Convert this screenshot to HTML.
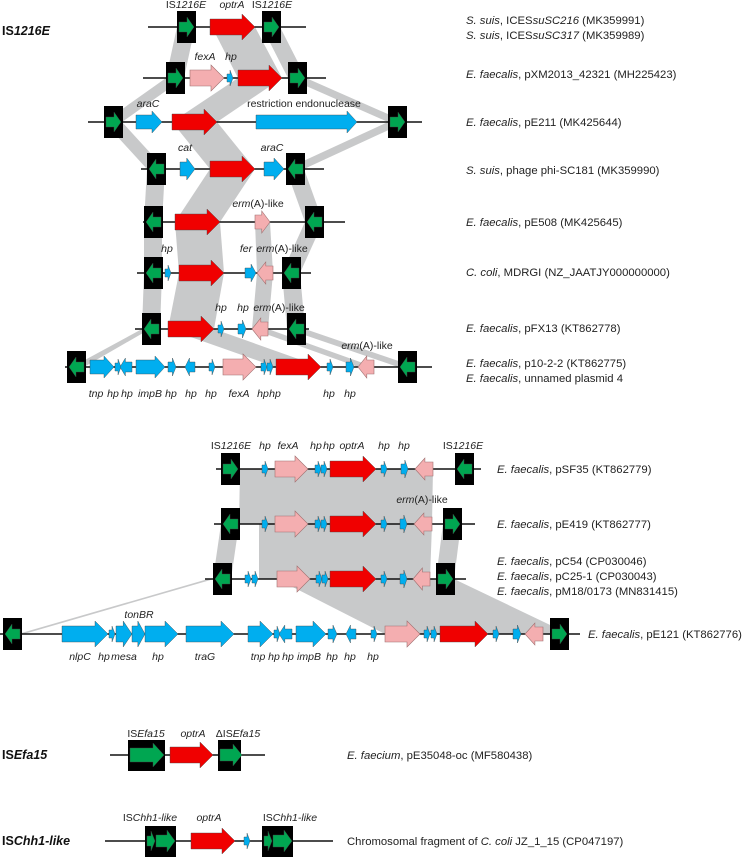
<!DOCTYPE html>
<html><head><meta charset="utf-8">
<style>
html,body{margin:0;padding:0;background:#fff;}
svg{display:block;font-family:"Liberation Sans",sans-serif;}
.g{font-size:10.5px;font-style:italic;fill:#222;text-anchor:middle}
.n{font-size:10.5px;fill:#222;text-anchor:middle}
.r{font-size:11.3px;fill:#222}
.h{font-size:12.5px;font-weight:bold;fill:#111}
</style></head><body>
<svg id="s" width="750" height="859" viewBox="0 0 750 859" xmlns="http://www.w3.org/2000/svg">
<g id="links" fill="#c8c9ca"></g>
<g id="lines" stroke="#111" stroke-width="1.6"></g>
<g id="shapes"></g>

<text class="h" x="2" y="35">IS<tspan font-style="italic">1216E</tspan></text>
<text class="h" x="2" y="759">IS<tspan font-style="italic">Efa15</tspan></text>
<text class="h" x="2" y="845">IS<tspan font-style="italic">Chh1-like</tspan></text>

<text class="r" x="466" y="24"><tspan font-style="italic">S. suis</tspan>, ICES<tspan font-style="italic">suSC216</tspan> (MK359991)</text>
<text class="r" x="466" y="39"><tspan font-style="italic">S. suis</tspan>, ICES<tspan font-style="italic">suSC317</tspan> (MK359989)</text>
<text class="r" x="466" y="78"><tspan font-style="italic">E. faecalis</tspan>, pXM2013_42321 (MH225423)</text>
<text class="r" x="466" y="126"><tspan font-style="italic">E. faecalis</tspan>, pE211 (MK425644)</text>
<text class="r" x="466" y="174"><tspan font-style="italic">S. suis</tspan>, phage phi-SC181 (MK359990)</text>
<text class="r" x="466" y="226"><tspan font-style="italic">E. faecalis</tspan>, pE508 (MK425645)</text>
<text class="r" x="466" y="276"><tspan font-style="italic">C. coli</tspan>, MDRGI (NZ_JAATJY000000000)</text>
<text class="r" x="466" y="332"><tspan font-style="italic">E. faecalis</tspan>, pFX13 (KT862778)</text>
<text class="r" x="466" y="367"><tspan font-style="italic">E. faecalis</tspan>, p10-2-2 (KT862775)</text>
<text class="r" x="466" y="382"><tspan font-style="italic">E. faecalis</tspan>, unnamed plasmid 4</text>

<text class="r" x="497" y="473"><tspan font-style="italic">E. faecalis</tspan>, pSF35 (KT862779)</text>
<text class="r" x="497" y="528"><tspan font-style="italic">E. faecalis</tspan>, pE419 (KT862777)</text>
<text class="r" x="497" y="565"><tspan font-style="italic">E. faecalis</tspan>, pC54 (CP030046)</text>
<text class="r" x="497" y="580"><tspan font-style="italic">E. faecalis</tspan>, pC25-1 (CP030043)</text>
<text class="r" x="497" y="595"><tspan font-style="italic">E. faecalis</tspan>, pM18/0173 (MN831415)</text>
<text class="r" x="588" y="638"><tspan font-style="italic">E. faecalis</tspan>, pE121 (KT862776)</text>

<text class="r" x="347" y="759"><tspan font-style="italic">E. faecium</tspan>, pE35048-oc (MF580438)</text>
<text class="r" x="347" y="845">Chromosomal fragment of <tspan font-style="italic">C. coli</tspan> JZ_1_15 (CP047197)</text>

<text class="n" x="186" y="8">IS<tspan font-style="italic">1216E</tspan></text>
<text class="g" x="232" y="8">optrA</text>
<text class="n" x="272" y="8">IS<tspan font-style="italic">1216E</tspan></text>
<text class="g" x="205" y="60">fexA</text>
<text class="g" x="231" y="60">hp</text>
<text class="g" x="148" y="107">araC</text>
<text class="n" x="304" y="107">restriction endonuclease</text>
<text class="g" x="185" y="151">cat</text>
<text class="g" x="272" y="151">araC</text>
<text class="n" x="258" y="207"><tspan font-style="italic">erm</tspan>(A)-like</text>
<text class="g" x="167" y="252">hp</text>
<text class="g" x="246" y="252">fer</text>
<text class="n" x="282" y="252"><tspan font-style="italic">erm</tspan>(A)-like</text>
<text class="g" x="221" y="311">hp</text>
<text class="g" x="243" y="311">hp</text>
<text class="n" x="279" y="311"><tspan font-style="italic">erm</tspan>(A)-like</text>
<text class="n" x="367" y="349"><tspan font-style="italic">erm</tspan>(A)-like</text>
<text class="g" x="96" y="397">tnp</text>
<text class="g" x="113" y="397">hp</text>
<text class="g" x="127" y="397">hp</text>
<text class="g" x="150" y="397">impB</text>
<text class="g" x="171" y="397">hp</text>
<text class="g" x="191" y="397">hp</text>
<text class="g" x="211" y="397">hp</text>
<text class="g" x="239" y="397">fexA</text>
<text class="g" x="263" y="397">hp</text>
<text class="g" x="275" y="397">hp</text>
<text class="g" x="329" y="397">hp</text>
<text class="g" x="350" y="397">hp</text>

<text class="n" x="231" y="449">IS<tspan font-style="italic">1216E</tspan></text>
<text class="g" x="265" y="449">hp</text>
<text class="g" x="288" y="449">fexA</text>
<text class="g" x="316" y="449">hp</text>
<text class="g" x="329" y="449">hp</text>
<text class="g" x="352" y="449">optrA</text>
<text class="g" x="384" y="449">hp</text>
<text class="g" x="404" y="449">hp</text>
<text class="n" x="463" y="449">IS<tspan font-style="italic">1216E</tspan></text>
<text class="n" x="422" y="503"><tspan font-style="italic">erm</tspan>(A)-like</text>
<text class="g" x="139" y="618">tonBR</text>
<text class="g" x="80" y="660">nlpC</text>
<text class="g" x="104" y="660">hp</text>
<text class="g" x="124" y="660">mesa</text>
<text class="g" x="158" y="660">hp</text>
<text class="g" x="205" y="660">traG</text>
<text class="g" x="258" y="660">tnp</text>
<text class="g" x="274" y="660">hp</text>
<text class="g" x="288" y="660">hp</text>
<text class="g" x="309" y="660">impB</text>
<text class="g" x="332" y="660">hp</text>
<text class="g" x="350" y="660">hp</text>
<text class="g" x="373" y="660">hp</text>

<text class="n" x="146" y="737">IS<tspan font-style="italic">Efa15</tspan></text>
<text class="g" x="193" y="737">optrA</text>
<text class="n" x="238" y="737">ΔIS<tspan font-style="italic">Efa15</tspan></text>
<text class="n" x="150" y="821">IS<tspan font-style="italic">Chh1-like</tspan></text>
<text class="g" x="209" y="821">optrA</text>
<text class="n" x="290" y="821">IS<tspan font-style="italic">Chh1-like</tspan></text>
</svg>
<script>
var NS="http://www.w3.org/2000/svg";
function el(p,tag,a){var e=document.createElementNS(NS,tag);for(var k in a)e.setAttribute(k,a[k]);document.getElementById(p).appendChild(e);return e;}
var COL={R:"#f00000",B:"#00aeef",P:"#f4aeb0",G:"#00a651"};
function gene(x1,x2,c,dir,col,bh,hh,hl){
  var L=x2-x1; if(hl>L*0.55) hl=L*0.55;
  var pts;
  if(dir>0){pts=[[x1,c-bh],[x2-hl,c-bh],[x2-hl,c-hh],[x2,c],[x2-hl,c+hh],[x2-hl,c+bh],[x1,c+bh]];}
  else{pts=[[x2,c-bh],[x1+hl,c-bh],[x1+hl,c-hh],[x1,c],[x1+hl,c+hh],[x1+hl,c+bh],[x2,c+bh]];}
  el("shapes","polygon",{points:pts.map(function(p){return p.join(",")}).join(" "),fill:COL[col],stroke:col=="P"?"#a07070":"#444","stroke-width":col=="P"?0.6:0.4});
}
function big(x1,x2,c,d,col){gene(x1,x2,c,d,col,8,13,13);}
function med(x1,x2,c,d,col){var L=x2-x1; if(L<14) gene(x1,x2,c,d,col,5,9,L*0.45); else gene(x1,x2,c,d,col,7,11,10);}
function hp(x,c,d){gene(x,x+6,c,d,"B",4,8,3);}
function IS(x,c,d,w,h){w=w||19;h=h||16;
  el("shapes","rect",{x:x,y:c-h,width:w,height:2*h,fill:"#000"});
  gene(x+2,x+w-2,c,d,"G",5,10,7);}
function line(x1,x2,c){el("lines","line",{x1:x1,x2:x2,y1:c,y2:c});}
function link(a1,a2,ya,b1,b2,yb){el("links","polygon",{points:a1+","+ya+" "+a2+","+ya+" "+b2+","+yb+" "+b1+","+yb});}

var Y=[27,78,122,169,222,273,329,367];
link(177,195,Y[0],166,184,Y[1]);link(212,255,Y[0],238,282,Y[1]);link(262,280,Y[0],288,306,Y[1]);
link(166,184,Y[1],104,122,Y[2]);link(238,282,Y[1],172,217,Y[2]);link(288,306,Y[1],388,406,Y[2]);
link(104,122,Y[2],147,165,Y[3]);link(172,217,Y[2],210,255,Y[3]);link(388,406,Y[2],286,304,Y[3]);
link(147,165,Y[3],144,162,Y[4]);link(210,255,Y[3],175,220,Y[4]);link(286,304,Y[3],305,323,Y[4]);
link(144,162,Y[4],144,162,Y[5]);link(175,220,Y[4],179,224,Y[5]);link(255,270,Y[4],257,273,Y[5]);link(305,323,Y[4],282,300,Y[5]);
link(144,162,Y[5],142,160,Y[6]);link(179,224,Y[5],168,214,Y[6]);link(257,273,Y[5],252,268,Y[6]);link(282,300,Y[5],287,305,Y[6]);
link(142,150,Y[6],72,84,Y[7]);link(168,214,Y[6],276,321,Y[7]);link(252,268,Y[6],358,374,Y[7]);link(287,305,Y[6],398,416,Y[7]);
var Z=[469,524,579,634];
link(240,433,Z[0],239,432,Z[1]);
link(221,239,Z[1],213,231,Z[2]);link(259,432,Z[1],259,430,Z[2]);link(443,461,Z[1],436,454,Z[2]);
link(208,214,Z[2],18,24,Z[3]);link(277,454,Z[2],385,569,Z[3]);

line(148,306,Y[0]);IS(177,Y[0],1);big(210,255,Y[0],1,"R");IS(262,Y[0],1);
line(143,326,Y[1]);IS(166,Y[1],1);big(190,224,Y[1],1,"P");hp(227,Y[1],1);big(238,282,Y[1],1,"R");IS(288,Y[1],1);
line(88,422,Y[2]);IS(104,Y[2],1);med(136,162,Y[2],1,"B");big(172,217,Y[2],1,"R");med(256,357,Y[2],1,"B");IS(388,Y[2],1);
line(141,324,Y[3]);IS(147,Y[3],-1);med(180,195,Y[3],1,"B");big(210,255,Y[3],1,"R");med(264,284,Y[3],1,"B");IS(286,Y[3],-1);
line(143,345,Y[4]);IS(144,Y[4],-1);big(175,220,Y[4],1,"R");med(255,270,Y[4],1,"P");IS(305,Y[4],-1);
line(137,311,Y[5]);IS(144,Y[5],-1);hp(165,Y[5],1);big(179,224,Y[5],1,"R");med(245,256,Y[5],1,"B");med(257,273,Y[5],-1,"P");IS(282,Y[5],-1);
line(135,309,Y[6]);IS(142,Y[6],-1);big(168,214,Y[6],1,"R");hp(218,Y[6],1);med(238,246,Y[6],1,"B");med(252,268,Y[6],-1,"P");IS(287,Y[6],-1);
line(65,432,Y[7]);IS(67,Y[7],-1);med(90,114,Y[7],1,"B");hp(115,Y[7],1);med(120,132,Y[7],-1,"B");med(136,165,Y[7],1,"B");med(168,176,Y[7],1,"B");med(185,195,Y[7],-1,"B");hp(209,Y[7],1);big(223,256,Y[7],1,"P");hp(261,Y[7],1);hp(267,Y[7],1);big(276,321,Y[7],1,"R");hp(327,Y[7],1);med(346,354,Y[7],1,"B");med(358,374,Y[7],-1,"P");IS(398,Y[7],-1);
function mid(c){hp(262,c,1);big(275,308,c,1,"P");hp(315,c,1);hp(321,c,1);big(330,376,c,1,"R");hp(381,c,1);}
line(216,481,Z[0]);IS(221,Z[0],1);mid(Z[0]);med(401,408,Z[0],1,"B");med(415,433,Z[0],-1,"P");IS(455,Z[0],-1);
line(214,475,Z[1]);IS(221,Z[1],-1);mid(Z[1]);med(400,407,Z[1],1,"B");med(414,432,Z[1],-1,"P");IS(443,Z[1],1);
line(205,466,Z[2]);IS(213,Z[2],-1);hp(245,Z[2],1);hp(252,Z[2],1);big(277,310,Z[2],1,"P");hp(316,Z[2],1);hp(322,Z[2],1);big(330,376,Z[2],1,"R");hp(381,Z[2],1);med(400,407,Z[2],1,"B");med(413,430,Z[2],-1,"P");IS(436,Z[2],1);
var c=Z[3];line(0,580,c);IS(3,c,-1);big(62,108,c,1,"B");hp(109,c,1);big(116,132,c,1,"B");big(132,145,c,1,"B");big(145,178,c,1,"B");big(186,234,c,1,"B");big(248,273,c,1,"B");hp(274,c,1);med(279,292,c,-1,"B");big(296,326,c,1,"B");med(328,337,c,1,"B");med(346,356,c,-1,"B");hp(371,c,1);big(385,420,c,1,"P");hp(424,c,1);hp(431,c,1);big(440,488,c,1,"R");hp(493,c,1);med(513,521,c,1,"B");med(525,543,c,-1,"P");IS(550,c,1);
c=755;line(110,265,c);el("shapes","rect",{x:128,y:c-15,width:37,height:31,fill:"#000"});gene(130,164,c,1,"G",7,12,11);
big(170,213,c,1,"R");el("shapes","rect",{x:218,y:c-15,width:23,height:31,fill:"#000"});gene(220,242,c,1,"G",6,11,9);
c=841;line(105,333,c);
function chh(x){el("shapes","rect",{x:x,y:c-15,width:31,height:31,fill:"#000"});gene(x+2,x+10,c,1,"G",5,10,4);gene(x+11,x+30,c,1,"G",6,11,8);}
chh(145);big(191,235,c,1,"R");hp(244,c,1);chh(262);
</script>
</body></html>
